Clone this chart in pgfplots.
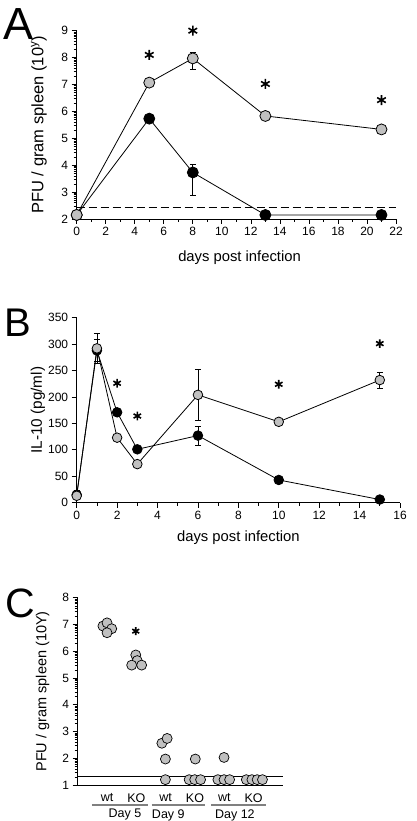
\documentclass[border=0pt]{standalone}
\usepackage{fontspec}
\setmainfont{Liberation Sans}
\usepackage{pgfplots}
\pgfplotsset{compat=1.18}
\definecolor{lg}{RGB}{192,192,192}
\pgfplotsset{
  panel/.style={scale only axis, axis x line=bottom, axis y line=left,
    axis line style={-, line width=0.9pt}, tick align=outside,
    tick style={black, line width=0.7pt}, major tick length=5pt, minor tick length=3pt,
    clip=false, /pgf/number format/assume math mode=true,
    tick label style={font=\fontsize{12}{14}\selectfont},
    xlabel style={font=\fontsize{14.8}{16}\selectfont}},
  gs/.style={black, line width=0.8pt, mark=*, mark options={fill=lg, line width=0.8pt, solid}},
  bs/.style={black, line width=0.8pt, mark=*, mark options={fill=black, solid}},
  eb/.style={error bars/.cd, y dir=both, y explicit,
    error bar style={line width=0.8pt, black},
    error mark options={rotate=90, mark size=3pt, line width=0.8pt, black}},
  star/.style={only marks, mark=asterisk, mark options={line width=1.6pt}},
}
\begin{document}
\begin{tikzpicture}[x=1pt,y=1pt]
\useasboundingbox (0,0) rectangle (416,821);
\node[anchor=base west, inner sep=0, font=\fontsize{45}{45}\selectfont] at (3,781) {A};
\node[anchor=base west, inner sep=0, font=\fontsize{40}{40}\selectfont] at (4,484) {B};
\node[anchor=base west, inner sep=0, font=\fontsize{41}{41}\selectfont] at (5,203) {C};
% Panel A
\begin{axis}[panel, at={(76.7pt,602pt)}, anchor=south west, width=319.3pt, height=188.3pt,
  xmin=0, xmax=22, ymin=2, ymax=9, xtick={0,2,...,22}, minor x tick num=1,
  ytick={2,...,9},
  minor ytick={2.301,2.477,2.602,2.699,2.778,2.845,2.903,2.954,
  3.301,3.477,3.602,3.699,3.778,3.845,3.903,3.954,
  4.301,4.477,4.602,4.699,4.778,4.845,4.903,4.954,
  5.301,5.477,5.602,5.699,5.778,5.845,5.903,5.954,
  6.301,6.477,6.602,6.699,6.778,6.845,6.903,6.954,
  7.301,7.477,7.602,7.699,7.778,7.845,7.903,7.954,
  8.301,8.477,8.602,8.699,8.778,8.845,8.903,8.954},
  xlabel={days post infection}, ylabel={PFU / gram spleen (10\textsuperscript{y})},
  xlabel style={at={(axis description cs:0.51,-0.207)}, anchor=center},
  ylabel style={at={(axis description cs:-0.118,0.5)}, anchor=center, font=\fontsize{16.5}{18}\selectfont}]
\addplot[black, line width=1.5pt, dash pattern=on 8pt off 4pt] coordinates {(0,2.43) (22,2.43)};
\addplot[bs, mark size=5.5pt, eb] coordinates {
 (0,2.15) (5,5.73) (8,3.73) += (0,0.29) -= (0,0.85) (13,2.15) (21,2.15)};
\addplot[gs, mark size=5.5pt, eb] coordinates {
 (0,2.15) (5,7.07) +- (0,0.07) (8,7.97) += (0,0.22) -= (0,0.42) (13,5.83) +- (0,0.12) (21,5.33)};
\addplot[star, mark size=5pt] coordinates {(5,8.10) (8,9.0) (13,7.02) (21,6.42)};
\end{axis}
% Panel B
\begin{axis}[panel, at={(76.7pt,318.3pt)}, anchor=south west, width=323.3pt, height=185pt,
  xmin=0, xmax=16, ymin=0, ymax=350, xtick={0,2,...,16}, minor x tick num=1,
  ytick={0,50,...,350},
  xlabel={days post infection}, ylabel={IL-10 (pg/ml)},
  xlabel style={at={(axis description cs:0.5,-0.191)}, anchor=center},
  ylabel style={at={(axis description cs:-0.12,0.5)}, anchor=center, font=\fontsize{15.3}{17}\selectfont}]
\addplot[bs, mark size=4.8pt, eb] coordinates {
 (0,15) +- (0,8) (1,288) +- (0,20) (2,171) (3,101) (6,127) += (0,18) -= (0,19) (10,43) (15,6)};
\addplot[gs, mark size=4.8pt, eb] coordinates {
 (0,13) +- (0,6) (1,292) +- (0,28) (2,123) (3,73) +- (0,7) (6,204) +- (0,49) (10,153) +- (0,5) (15,232) +- (0,15)};
\addplot[star, mark size=4.3pt] coordinates {(2,226) (3,164) (10,224) (15,301)};
\end{axis}
% Panel C
\begin{axis}[panel, at={(77.7pt,36pt)}, anchor=south west, width=205.3pt, height=187.3pt,
  xmin=0, xmax=7, ymin=1, ymax=8, xtick={1,...,6}, xticklabels={wt,KO,wt,KO,wt,KO},
  major x tick style={draw=none},
  xticklabel style={font=\fontsize{12.5}{14}\selectfont},
  ytick={1,...,8},
  minor ytick={1.301,1.477,1.602,1.699,1.778,1.845,1.903,1.954,
  2.301,2.477,2.602,2.699,2.778,2.845,2.903,2.954,
  3.301,3.477,3.602,3.699,3.778,3.845,3.903,3.954,
  4.301,4.477,4.602,4.699,4.778,4.845,4.903,4.954,
  5.301,5.477,5.602,5.699,5.778,5.845,5.903,5.954,
  6.301,6.477,6.602,6.699,6.778,6.845,6.903,6.954,
  7.301,7.477,7.602,7.699,7.778,7.845,7.903,7.954},
  minor y tick style={line width=0.4pt},
  ylabel={PFU / gram spleen (10Y)},
  ylabel style={at={(axis description cs:-0.171,0.5)}, anchor=center, font=\fontsize{14.5}{16}\selectfont}]
\addplot[black, line width=0.8pt] coordinates {(0,1.33) (7,1.33)};
\addplot[only marks, mark=*, mark size=5pt, mark options={fill=lg, draw=black, line width=0.7pt}] coordinates {
 (0.86,6.94) (1.0,7.06) (1.16,6.84) (1.0,6.69)
 (1.98,5.86) (2.03,5.65) (1.84,5.48) (2.18,5.48)
 (2.87,2.56) (3.05,2.74) (2.99,1.97) (2.99,1.2)
 (4.01,1.97) (3.80,1.2) (3.99,1.2) (4.19,1.2)
 (4.99,2.03) (4.78,1.2) (4.99,1.2) (5.18,1.2)
 (5.75,1.2) (5.94,1.2) (6.12,1.2) (6.30,1.2)};
\addplot[star, mark size=4pt] coordinates {(1.98,6.75)};
\draw[gray, line width=1.8pt] (axis cs:0.48,0.253) -- (axis cs:2.4,0.253);
\draw[gray, line width=1.8pt] (axis cs:2.52,0.253) -- (axis cs:4.33,0.253);
\draw[gray, line width=1.8pt] (axis cs:4.56,0.253) -- (axis cs:6.43,0.253);
\node[font=\fontsize{12.5}{14}\selectfont] at (axis cs:1.61,-0.12) {Day 5};
\node[font=\fontsize{12.5}{14}\selectfont] at (axis cs:3.09,-0.12) {Day 9};
\node[font=\fontsize{12.5}{14}\selectfont] at (axis cs:5.36,-0.12) {Day 12};
\end{axis}
\end{tikzpicture}
\end{document}
